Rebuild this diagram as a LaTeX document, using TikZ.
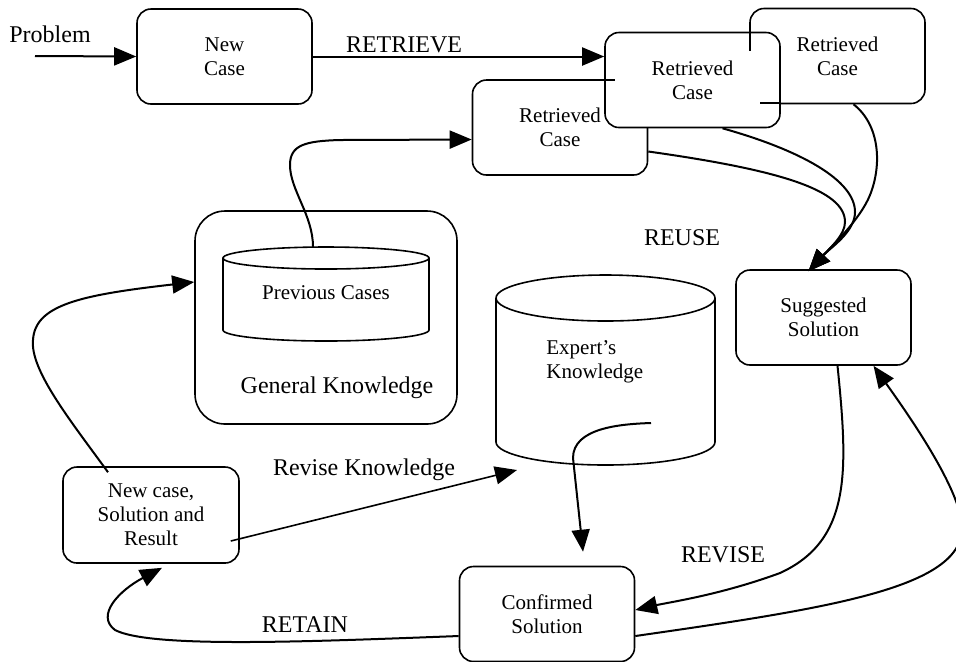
\documentclass[tikz,border=0pt]{standalone}
\usepackage{fontspec}
\setmainfont{Liberation Serif}
\usetikzlibrary{arrows.meta}

\begin{document}
\begin{tikzpicture}[x=0.5pt, y=-0.5pt,
        box/.style={draw, line width=0.8pt, rounded corners=7pt, fill=white, align=center,
            minimum width=87.5pt, minimum height=47.5pt, inner sep=2pt, font=\fontsize{10.5}{12}\selectfont},
        txt/.style={font=\fontsize{10.5}{12}\selectfont, align=center, inner sep=1pt},
        lbl/.style={font=\fontsize{12}{14}\selectfont, inner sep=1pt},
        flow/.style={-{Triangle[length=11pt,width=9pt]}, line width=1pt},
        cyl/.style={line width=0.8pt}]
        % basics
        \useasboundingbox (0,0) rectangle (956,661);

        % general knowledge
        \node[draw, line width=0.8pt, rounded corners=15pt, minimum width=131pt, minimum height=106.5pt] (genknow) at (326,317.5) {};
        \node[lbl] (genlbl) at (337,388) {General Knowledge};
        %% previous cases
        \draw[cyl] (223,258) -- (223,330) arc[start angle=180, end angle=360, x radius=51.5pt, y radius=5.5pt] -- (429,258);
        \draw[cyl] (326,258) ellipse [x radius=51.5pt, y radius=5.5pt];
        \node[txt] (prevcases) at (326,293) {Previous Cases};
        \coordinate (pc-top) at (313,247);

        % expert's knowledge
        \draw[cyl] (496,298) -- (496,442) arc[start angle=180, end angle=360, x radius=54.75pt, y radius=11.5pt] -- (715,298);
        \draw[cyl] (605.5,298) ellipse [x radius=54.75pt, y radius=11.5pt];
        \node[txt, align=left, anchor=west] (expert) at (544,362) {Expert’s\\Knowledge};
        \coordinate (ek-out) at (651,423);
        \coordinate (ek-in) at (517,470);

        % boxes
        \node[box] (newcase) at (224.5,56.5) {New\\Case};
        \node[box] (r1) at (560,127.5) {Retrieved\\Case};
        \node[box] (r3) at (837.5,56) {Retrieved\\Case};
        \node[box] (r2) at (692.5,80) {Retrieved\\Case};
        %% edges showing through
        \draw[line width=0.8pt] (750,33) -- (750,51);
        \draw[line width=0.8pt] (760,103) -- (780,103);
        \draw[line width=0.8pt] (605,80) -- (615,80);
        \node[box] (suggested) at (823.5,317.5) {Suggested\\Solution};
        \node[box] (confirmed) at (547,614) {Confirmed\\Solution};
        \node[box, minimum width=88pt, minimum height=48pt] (newsol) at (151,515) {New case,\\Solution and\\Result};

        % labels
        \node[lbl] (problem) at (50,34) {Problem};
        \node[lbl] (retrieve) at (404,45) {RETRIEVE};
        \node[lbl] (reuse) at (682,238) {REUSE};
        \node[lbl] (revknow) at (364,470) {Revise Knowledge};
        \node[lbl] (revise) at (723,555) {REVISE};
        \node[lbl] (retain) at (305,625) {RETAIN};
        \coordinate (in) at (35,56);

        % retrieve
        \draw[flow] (in) -- (newcase.west);
        \draw[flow] (newcase.east) -- (newcase.east -| r2.west);
        \draw[flow] (pc-top) .. controls (313,215) and (290,190) .. (290,165)
            .. controls (290,145) and (305,141) .. (340,140) -- ([yshift=-6pt]r1.west);

        % reuse
        \draw[flow] ([yshift=-12pt]r1.east) .. controls (780,170) and (845,190) .. (845,222)
            .. controls (845,235) and (830,248) .. ([xshift=-7.5pt,yshift=-1pt]suggested.north);
        \draw[flow] ([xshift=15pt]r2.south) .. controls (800,150) and (855,180) .. (855,212)
            .. controls (855,232) and (830,248) .. ([xshift=-7.5pt,yshift=-1pt]suggested.north);
        \draw[flow] ([xshift=8pt]r3.south) .. controls (880,125) and (882,165) .. (870,195)
            .. controls (860,220) and (830,248) .. ([xshift=-7.5pt,yshift=-1pt]suggested.north);

        % revise
        \draw[flow] ([xshift=7pt]suggested.south) .. controls (848,470) and (852,540) .. (780,573)
            .. controls (720,595) and (670,602) .. ([yshift=2pt]confirmed.east);
        \draw[flow] ([yshift=-11pt]confirmed.east) .. controls (830,608) and (962,588) .. (962,528)
            .. controls (962,490) and (905,410) .. ([xshift=25pt]suggested.south);
        \draw[flow] (ek-out) .. controls (620,424) and (573,428) .. (573,458) -- ([xshift=18pt,yshift=7pt]confirmed.north);

        % retain
        \draw[flow] ([yshift=-11pt]confirmed.west) .. controls (300,642) and (150,648) .. (115,630)
            .. controls (95,615) and (120,590) .. ([xshift=5.5pt,yshift=-2pt]newsol.south);
        \draw[flow] ([xshift=-21.5pt,yshift=-3pt]newsol.north) .. controls (70,420) and (30,370) .. (33,340)
            .. controls (35,305) and (80,295) .. ([yshift=17.75pt]genknow.west);
        \draw[flow, line width=0.8pt] ([xshift=-4.5pt,yshift=-13pt]newsol.east) -- (ek-in);
    \end{tikzpicture}
\end{document}
